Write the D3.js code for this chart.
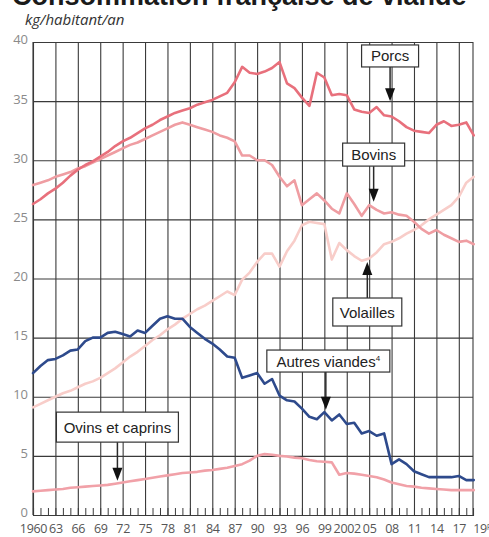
<!DOCTYPE html>
<html><head><meta charset="utf-8">
<script src="https://cdn.jsdelivr.net/npm/d3@7/dist/d3.min.js"></script>
<style>body{margin:0;background:#fff;overflow:hidden}svg{display:block}</style>
</head><body>
<svg id="chart" width="489" height="537"></svg>
<script>
// ---------- DATA ----------
const years = [1960,1961,1962,1963,1964,1965,1966,1967,1968,1969,
  1970,1971,1972,1973,1974,1975,1976,1977,1978,1979,
  1980,1981,1982,1983,1984,1985,1986,1987,1988,1989,
  1990,1991,1992,1993,1994,1995,1996,1997,1998,1999,
  2000,2001,2002,2003,2004,2005,2006,2007,2008,2009,
  2010,2011,2012,2013,2014,2015,2016,2017,2018,2019];

const porcs = [26.3,26.7,27.2,27.6,28.1,28.7,29.2,29.6,29.9,30.3,
  30.7,31.2,31.6,31.9,32.3,32.7,33.0,33.4,33.7,34.0,
  34.2,34.4,34.7,34.9,35.1,35.4,35.7,36.6,37.9,37.4,
  37.3,37.5,37.8,38.3,36.5,36.1,35.3,34.6,37.4,37.0,
  35.5,35.6,35.5,34.3,34.1,34.0,34.5,33.8,33.7,33.3,
  32.8,32.5,32.4,32.3,33.0,33.3,32.9,33.0,33.2,32.1];

const bovins = [27.9,28.1,28.3,28.6,28.8,29.0,29.3,29.5,29.8,30.1,
  30.4,30.7,31.0,31.3,31.5,31.8,32.1,32.4,32.7,33.0,
  33.2,33.0,32.8,32.6,32.4,32.1,31.9,31.6,30.4,30.4,
  30.0,30.0,29.6,28.6,27.8,28.3,26.2,26.7,27.2,26.6,
  25.9,25.5,27.2,26.3,25.3,26.2,25.8,25.5,25.6,25.4,
  25.3,24.8,24.2,23.8,24.1,23.7,23.4,23.1,23.2,22.9];

const volailles = [9.1,9.4,9.7,10.0,10.3,10.5,10.8,11.1,11.3,11.6,
  12.0,12.4,12.9,13.4,13.8,14.3,14.8,15.2,15.7,16.1,
  16.6,17.0,17.4,17.7,18.1,18.5,18.9,18.6,19.9,20.5,
  21.4,22.1,22.1,21.0,22.3,23.2,24.5,24.8,24.7,24.6,
  21.6,23.0,22.4,21.9,21.5,21.7,22.2,22.9,23.1,23.4,
  23.8,24.1,24.5,25.0,25.4,25.8,26.2,26.9,28.1,28.6];

const autres = [12.0,12.6,13.1,13.2,13.5,13.9,14.0,14.7,15.0,15.0,
  15.4,15.5,15.3,15.1,15.6,15.4,16.0,16.6,16.8,16.6,
  16.6,15.9,15.4,14.9,14.5,14.0,13.4,13.3,11.6,11.8,
  12.0,11.1,11.5,10.1,9.7,9.6,9.0,8.3,8.1,8.7,
  8.0,8.5,7.7,7.8,6.9,7.1,6.7,6.9,4.3,4.7,
  4.3,3.7,3.45,3.2,3.2,3.2,3.2,3.3,2.95,2.95];

const ovins = [2.0,2.05,2.1,2.15,2.2,2.3,2.35,2.4,2.45,2.5,
  2.55,2.65,2.75,2.85,2.95,3.05,3.15,3.25,3.35,3.45,
  3.55,3.6,3.65,3.75,3.8,3.9,4.0,4.15,4.3,4.6,
  5.0,5.15,5.1,5.0,4.95,4.85,4.8,4.65,4.55,4.5,
  4.45,3.4,3.55,3.5,3.4,3.3,3.2,3.0,2.75,2.6,
  2.45,2.4,2.3,2.25,2.2,2.15,2.1,2.1,2.1,2.1];

const gridYears = [1960,1963,1966,1969,1972,1975,1978,1981,1984,1987,1990,1993,1996,1999,2002,2005,2008,2011,2014,2017];
const tickYears = [1960,1963,1966,1969,1972,1975,1978,1981,1984,1987,1990,1993,1996,1999,2002,2005,2008,2011,2014,2017,2019];
const tickLabels = ["1960","63","66","69","72","75","78","81","84","87","90","93","96","99","2002","05","08","11","14","17","19"];
const yTicks = [0,5,10,15,20,25,30,35,40];

const seriesNames = ["Volailles","Bovins","Porcs","Ovins et caprins","Autres viandes"];
const seriesValues = [volailles, bovins, porcs, ovins, autres];
const seriesColors = ["#f8cdc9","#ef9da2","#e8707c","#f1a1a8","#2e4a8c"];

// annotations: label, arrow year, box top value, box height px, arrow tip value, direction
const annotations = [
  {label:"Porcs", year:2007.8, boxTop:39.75, h:22, w:57, tip:35.0, dir:"down"},
  {label:"Bovins", year:2005.6, boxTop:31.45, h:23, w:62, tip:26.5, dir:"down"},
  {label:"Volailles", year:2004.75, boxTop:18.35, h:28, w:69, tip:21.4, dir:"up"},
  {label:"Autres viandes", sup:"4", year:1999.2, boxTop:13.95, h:22, w:123, tip:8.9, dir:"down", dx:2.5},
  {label:"Ovins et caprins", year:1971.3, boxTop:8.7, h:30, w:122, tip:2.9, dir:"down"}
];

// ---------- CHART ----------
const svg = d3.select("#chart");
const m = {left:33, right:473, top:42, bottom:515};
const x = d3.scaleLinear().domain([1960, 2018.9]).range([m.left, m.right]);
const y = d3.scaleLinear().domain([0, 40]).range([m.bottom, m.top]);

// title (cut at top) and unit
svg.append("text").attr("x", 12).attr("y", 5)
  .attr("font-family", "Liberation Sans, Arial, sans-serif").attr("font-weight", "bold")
  .attr("font-size", 27).attr("fill", "#1a1a1a").text("Consommation française de viande");
svg.append("text").attr("x", 25).attr("y", 25)
  .attr("font-family", "Open Sans, Noto Sans, sans-serif").attr("font-style", "italic")
  .attr("font-size", 15).attr("fill", "#333").text("kg/habitant/an");

const gridColor = "#3a3a3a";

// vertical gridlines
const gx = svg.append("g").attr("transform", `translate(0,${m.bottom})`)
  .call(d3.axisBottom(x).tickValues(gridYears).tickSize(-(m.bottom - m.top)).tickFormat(""));
gx.select(".domain").remove();
gx.selectAll("line").attr("stroke", gridColor).attr("stroke-width", 1.1);

// right border
svg.append("line").attr("x1", m.right).attr("x2", m.right).attr("y1", m.top).attr("y2", m.bottom)
  .attr("stroke", gridColor).attr("stroke-width", 1.1);

// horizontal gridlines + y labels
const gy = svg.append("g").attr("transform", `translate(${m.left},0)`)
  .call(d3.axisLeft(y).tickValues(yTicks).tickSize(-(m.right - m.left)).tickPadding(5));
gy.select(".domain").remove();
gy.selectAll("line").attr("stroke", gridColor).attr("stroke-width", 1.1);
gy.selectAll("text").attr("font-family", "Open Sans, Noto Sans, sans-serif")
  .attr("font-size", 13).attr("fill", "#8a8a8a").attr("dy", "0.15em");

// left border
svg.append("line").attr("x1", m.left).attr("x2", m.left).attr("y1", m.top).attr("y2", m.bottom)
  .attr("stroke", gridColor).attr("stroke-width", 1.1);

// minor yearly ticks
const gm = svg.append("g").attr("transform", `translate(0,${m.bottom})`)
  .call(d3.axisBottom(x).tickValues(years.filter(d => d <= 2018)).tickSize(-7).tickFormat(""));
gm.select(".domain").attr("stroke", gridColor).attr("stroke-width", 1.1);
gm.selectAll("line").attr("stroke", gridColor).attr("stroke-width", 1);

// x labels
const gl = svg.append("g").attr("transform", `translate(0,${m.bottom})`)
  .call(d3.axisBottom(x).tickValues(tickYears).tickSize(0)
    .tickFormat((d, i) => tickLabels[i]));
gl.select(".domain").remove();
gl.selectAll("text").attr("font-family", "Open Sans, Noto Sans, sans-serif")
  .attr("font-size", 12.5).attr("fill", "#555").attr("y", 18).attr("dy", 0)
  .attr("letter-spacing", -0.3);
const lastLabel = gl.selectAll("text").filter(d => d === 2019);
lastLabel.attr("text-anchor", "start").attr("dx", -1);
lastLabel.append("tspan").attr("font-size", 7).attr("dy", -5).text("p");

// lines
const line = d3.line().x(d => x(d[0])).y(d => y(d[1]));
seriesValues.forEach((vals, i) => {
  svg.append("path")
    .datum(years.map((yr, j) => [yr, vals[j]]))
    .attr("fill", "none").attr("stroke", seriesColors[i])
    .attr("stroke-width", 2.6).attr("stroke-linejoin", "round").attr("stroke-linecap", "round")
    .attr("d", line);
});

// annotations
const ag = svg.append("g");
annotations.forEach(a => {
  const ax = x(a.year);
  const top = y(a.boxTop);
  const cx = ax + (a.dx || 0);
  let y1, y2;
  if (a.dir === "down") { y1 = top + a.h; y2 = y(a.tip); }
  else { y1 = top; y2 = y(a.tip); }
  const headLen = 13, headW = 5;
  const s = a.dir === "down" ? 1 : -1;
  ag.append("line").attr("x1", ax).attr("x2", ax).attr("y1", y1).attr("y2", y2 - s * headLen + s)
    .attr("stroke", "#2a2a2a").attr("stroke-width", 1.5);
  ag.append("path")
    .attr("d", `M${ax - headW},${y2 - s * headLen} L${ax + headW},${y2 - s * headLen} L${ax},${y2} Z`)
    .attr("fill", "#111");
  ag.append("rect").attr("x", cx - a.w / 2).attr("y", top).attr("width", a.w).attr("height", a.h)
    .attr("fill", "#fff").attr("stroke", "#333").attr("stroke-width", 1.2);
  const t = ag.append("text").attr("x", cx).attr("y", top + a.h / 2 + 5.5)
    .attr("text-anchor", "middle").attr("font-family", "Liberation Sans, Arial, sans-serif")
    .attr("font-size", 15).attr("fill", "#222").text(a.label);
  if (a.sup) t.append("tspan").attr("font-size", 8).attr("dy", -6).text(a.sup);
});
</script>
</body></html>
